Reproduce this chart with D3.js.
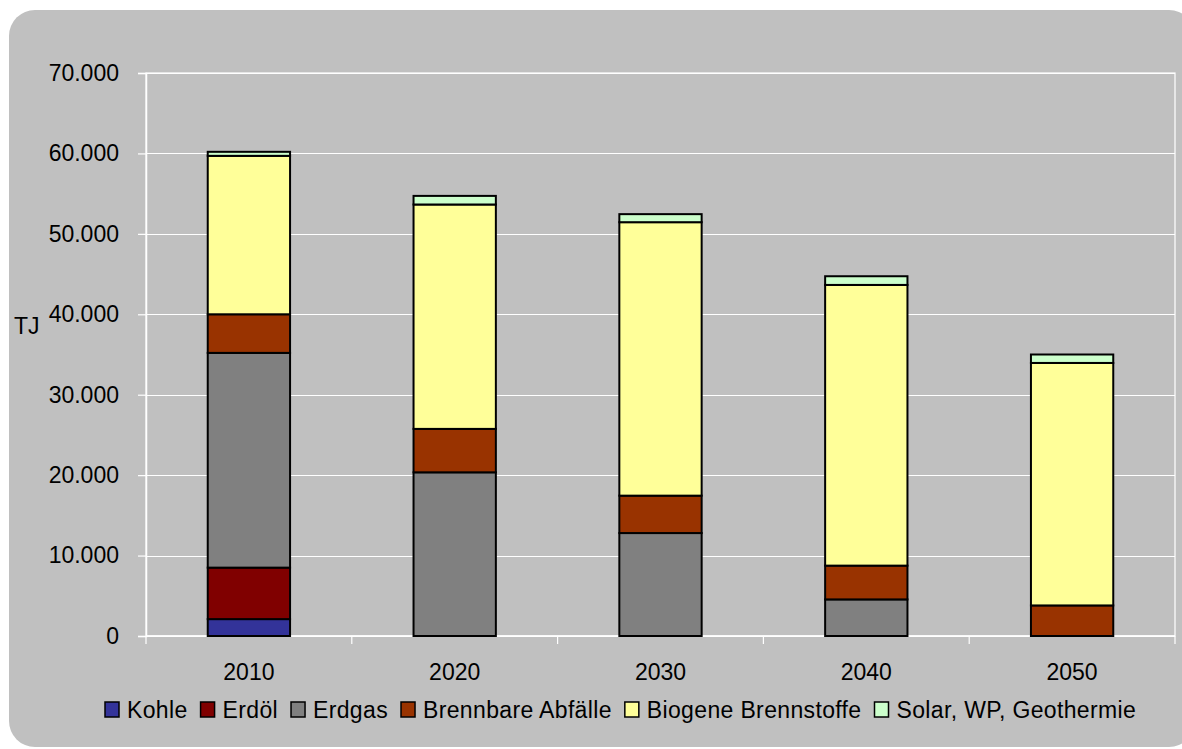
<!DOCTYPE html>
<html><head><meta charset="utf-8">
<script src="https://cdn.jsdelivr.net/npm/d3@7"></script>
<style>
html,body{margin:0;padding:0;background:#fff;}
svg{display:block;font-family:"Liberation Sans",Arial,sans-serif;}
</style></head>
<body>
<svg id="chart" width="1182" height="749"></svg>
<script>
const years = ["2010", "2020", "2030", "2040", "2050"];
const seriesNames = ["Kohle", "Erdöl", "Erdgas", "Brennbare Abfälle", "Biogene Brennstoffe", "Solar, WP, Geothermie"];
const seriesColors = ["#333399", "#800000", "#808080", "#993300", "#FFFF99", "#CCFFCC"];
const kohle     = [2100, 0, 0, 0, 0];
const erdoel    = [6400, 0, 0, 0, 0];
const erdgas    = [26700, 20350, 12800, 4550, 0];
const abfaelle  = [4800, 5400, 4650, 4200, 3800];
const biogene   = [19700, 27900, 34000, 34900, 30150];
const solar     = [500, 1070, 1000, 1080, 1050];
const yTicks = [0, 10000, 20000, 30000, 40000, 50000, 60000, 70000];
const yUnit = "TJ";

const seriesValues = [kohle, erdoel, erdgas, abfaelle, biogene, solar];
const rows = years.map((y, i) => {
  const r = {year: y};
  seriesNames.forEach((s, j) => r[s] = seriesValues[j][i]);
  return r;
});

const svg = d3.select("#chart");
const FONT = 23;
const plot = {left: 146, right: 1175, top: 73, bottom: 636};

// background panel
svg.append("rect").attr("x", 9).attr("y", 10).attr("width", 1186).attr("height", 737)
  .attr("rx", 26).attr("ry", 26).attr("fill", "#C0C0C0");

const x = d3.scaleBand().domain(years).range([plot.left, plot.right]).paddingInner(0.6).paddingOuter(0.3);
const y = d3.scaleLinear().domain([0, 70000]).range([plot.bottom, plot.top]);

// plot border
svg.append("rect").attr("x", plot.left).attr("y", plot.top)
  .attr("width", plot.right - plot.left).attr("height", plot.bottom - plot.top)
  .attr("fill", "none").attr("stroke", "#fff").attr("stroke-width", 1.2);

// gridlines
svg.append("g").selectAll("line").data(yTicks).join("line")
  .attr("x1", plot.left).attr("x2", plot.right)
  .attr("y1", d => Math.round(y(d)) + 0.5).attr("y2", d => Math.round(y(d)) + 0.5)
  .attr("stroke", "#fff").attr("stroke-width", 1.2);

// y axis
const yAxis = d3.axisLeft(y).tickValues(yTicks).tickSize(8).tickPadding(19)
  .tickFormat(d => d3.format(",")(d).replace(/,/g, "."));
const gy = svg.append("g").attr("transform", `translate(${plot.left},0)`).call(yAxis);
gy.select(".domain").attr("stroke", "#fff").attr("stroke-width", 1.5);
gy.selectAll(".tick line").attr("stroke", "#fff").attr("stroke-width", 1.2);
gy.selectAll("text").attr("fill", "#000").style("font-size", FONT + "px").attr("font-family", "Liberation Sans, Arial, sans-serif");

// x axis with ticks at band boundaries
const gx = svg.append("g").attr("transform", `translate(0,${plot.bottom})`);
gx.append("line").attr("x1", plot.left).attr("x2", plot.right).attr("stroke", "#fff").attr("stroke-width", 1.5);
const bounds = d3.range(years.length + 1).map(i => plot.left + i * (plot.right - plot.left) / years.length);
gx.selectAll("line.tk").data(bounds).join("line").attr("class", "tk")
  .attr("x1", d => d).attr("x2", d => d).attr("y1", 0).attr("y2", 8)
  .attr("stroke", "#fff").attr("stroke-width", 1.2);
gx.selectAll("text").data(years).join("text")
  .attr("x", d => x(d) + x.bandwidth() / 2).attr("y", 44)
  .attr("text-anchor", "middle").style("font-size", FONT + "px").attr("fill", "#000").text(d => d);

// unit label
svg.append("text").attr("x", 14).attr("y", 334).style("font-size", FONT + "px").attr("fill", "#000").text(yUnit);

// stacked bars
const stack = d3.stack().keys(seriesNames)(rows);
const gb = svg.append("g");
stack.forEach((layer, j) => {
  gb.append("g").attr("fill", seriesColors[j]).selectAll("rect")
    .data(layer.filter(d => d[1] - d[0] > 0)).join("rect")
    .attr("x", d => x(d.data.year))
    .attr("width", x.bandwidth())
    .attr("y", d => y(d[1]))
    .attr("height", d => y(d[0]) - y(d[1]))
    .attr("stroke", "#000").attr("stroke-width", 2);
});

// legend
const lg = svg.append("g");
let lx = 105;
const gap = 13;
seriesNames.forEach((s, j) => {
  lg.append("rect").attr("x", lx).attr("y", 702).attr("width", 14).attr("height", 15)
    .attr("fill", seriesColors[j]).attr("stroke", "#000").attr("stroke-width", 1.5);
  const t = lg.append("text").attr("x", lx + 22).attr("y", 718).style("font-size", FONT + "px")
    .style("letter-spacing", "0.35px").attr("fill", "#000").text(s);
  lx += 22 + t.node().getComputedTextLength() + gap;
});
</script>
</body></html>
